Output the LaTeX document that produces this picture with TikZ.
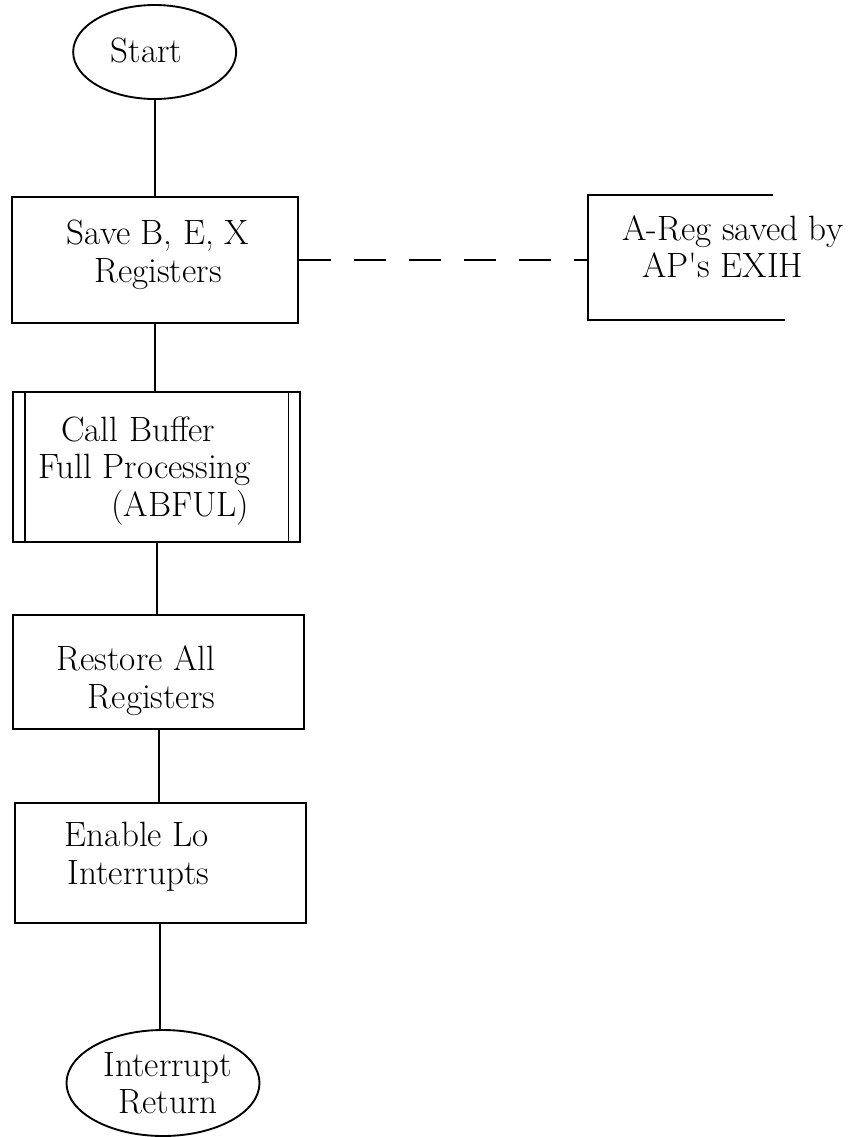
\documentclass[tikz,border=0pt]{standalone}
\usepackage{fontspec}
\usepackage{tikz}
\usetikzlibrary{shapes.geometric,calc}
\tikzstyle{box}=[rectangle, draw=black, line width=1.6pt, inner sep=0pt, anchor=center]
\tikzstyle{term}=[ellipse, draw=black, line width=1.6pt, inner sep=0pt, anchor=center]
\tikzstyle{annot}=[align=center, inner sep=0pt, font=\fontsize{30}{32}\selectfont]
\tikzstyle{flow}=[line width=1.6pt]
\begin{document}
\begin{tikzpicture}
	\useasboundingbox (0,0) rectangle (26.01,-34.11);

	% terminals
	\node[term, minimum width=4.89cm, minimum height=2.82cm](start) at (4.64,-1.56){};
	\node[annot](starttxt) at (4.4,-1.5){Start};
	\node[term, minimum width=5.79cm, minimum height=3.18cm](ret) at (4.89,-32.49){};
	\node[annot](rettxt) at (5.04,-32.5){Interrupt\\Return};

	% process boxes
	\node[box, minimum width=8.58cm, minimum height=3.78cm](save) at (4.65,-7.8){};
	\node[annot](savetxt) at (4.74,-7.65){Save B,\ E,\ X\\Registers};
	\node[box, minimum width=8.61cm, minimum height=4.5cm](call) at (4.7,-14.01){};
	\draw[flow] ([xshift=0.38cm]call.north west) -- ([xshift=0.38cm]call.south west);
	\draw[flow] ([xshift=-0.38cm]call.north east) -- ([xshift=-0.38cm]call.south east);
	\node[annot, align=left](calltxt) at (4.34,-14.13){\hspace*{0.69cm}Call Buffer\\Full Processing\\\hspace*{2.19cm}(ABFUL)};
	\node[box, minimum width=8.73cm, minimum height=3.42cm](restore) at (4.76,-20.16){};
	\node[annot, align=right](restoretxt) at (4.08,-20.42){Restore All\\Registers};
	\node[box, minimum width=8.73cm, minimum height=3.6cm](enable) at (4.81,-25.89){};
	\node[annot, align=right](enabletxt) at (4.11,-25.7){Enable Lo\\Interrupts};

	% annotation
	\node[minimum width=5.91cm, minimum height=3.75cm, inner sep=0pt](notebrk) at (20.6,-7.725){};
	\draw[flow] ([xshift=-0.36cm]notebrk.north east) -- (notebrk.north west) -- (notebrk.south west) -- (notebrk.south east);
	\node[annot, align=left](notetxt) at (21.98,-7.4){A-Reg saved by\\\hspace*{0.6cm}AP\textquotesingle s EXIH};

	% connectors
	\draw[flow] (start.south) -- (start.south |- save.north);
	\draw[flow] (save.south) -- (save.south |- call.north);
	\draw[flow] (call.south) -- (call.south |- restore.north);
	\draw[flow] (restore.south) -- (restore.south |- enable.north);
	\draw[flow] (enable.south) -- (enable.south |- ret.north);
	\draw[flow, dash pattern=on 0.96cm off 0.69cm] (save.east) -- (save.east -| notebrk.west);

\end{tikzpicture}
\end{document}
